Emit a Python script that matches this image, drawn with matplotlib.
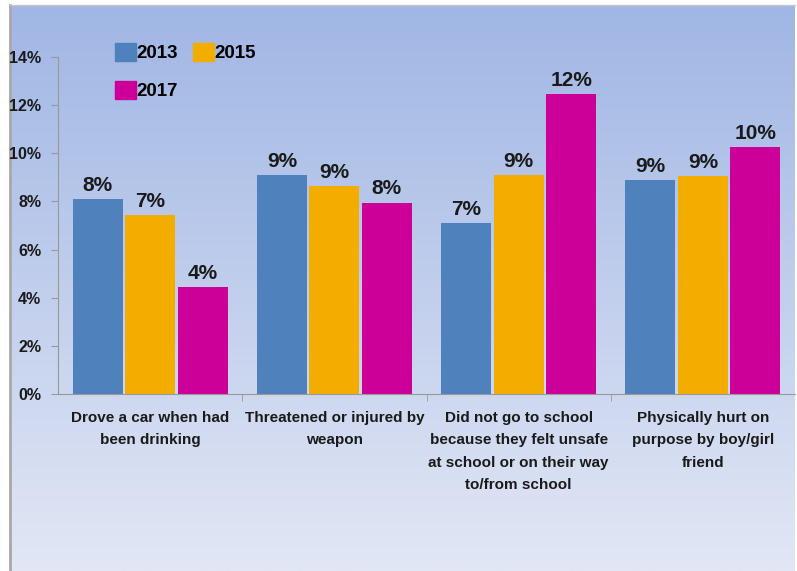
#!/usr/bin/env python3
"""Grouped bar chart of risk behaviours, 2013 / 2015 / 2017."""

import matplotlib

matplotlib.use("Agg")
import matplotlib.pyplot as plt
import numpy as np
from matplotlib.patches import Patch

categories = [
    "Drove a car when had\nbeen drinking",
    "Threatened or injured by\nweapon",
    "Did not go to school\nbecause they felt unsafe\nat school or on their way\nto/from school",
    "Physically hurt on\npurpose by boy/girl\nfriend",
]
years = ["2013", "2015", "2017"]
pct_2013 = [8.1, 9.1, 7.1, 8.9]
pct_2015 = [7.45, 8.65, 9.1, 9.05]
pct_2017 = [4.45, 7.95, 12.45, 10.25]
colors = ["#4f81bd", "#f3ad00", "#cc0099"]
yticks = [0, 2, 4, 6, 8, 10, 12, 14]

W, H = 797, 571
fig = plt.figure(figsize=(W / 100, H / 100), dpi=100, facecolor="white")

# slide background: vertical blue gradient inside a thin grey frame
bg = fig.add_axes([0, 0, 1, 1], zorder=0)
bg.set_xlim(0, W)
bg.set_ylim(H, 0)
bg.axis("off")
top = np.array([160, 182, 228]) / 255
bot = np.array([226, 231, 245]) / 255
t = np.linspace(0, 1, 256)[:, None]
grad = (top * (1 - t) + bot * t)[:, None, :]
bg.imshow(grad, extent=(10, 795, H, 5), aspect="auto")
bg.plot([10, 10], [5, H], color="#a8a8a8", lw=2)
bg.plot([10, 795], [5, 5], color="#c8c8c8", lw=1)

ax = fig.add_axes([58 / W, 177 / H, 737 / W, 337 / H], zorder=1)
ax.patch.set_alpha(0)

x = np.arange(len(categories))
step, width = 0.285, 0.272
series = [pct_2013, pct_2015, pct_2017]
for i, (vals, c, yr) in enumerate(zip(series, colors, years)):
    pos = x + (i - 1) * step
    ax.bar(pos, vals, width=width, color=c, label=yr)
    for px, v in zip(pos, vals):
        ax.annotate(f"{v:.0f}%", (px, v), xytext=(0, 3), textcoords="offset points",
                    ha="center", va="bottom", fontsize=15, fontweight="bold",
                    color="#1a1a1a", family="Liberation Sans")

ax.set_xlim(-0.5, 3.5)
ax.set_ylim(0, 14)
ax.set_yticks(yticks)
ax.set_yticklabels([f"{v}%" for v in yticks], fontsize=11.5, fontweight="bold",
                   family="Liberation Sans", color="#1a1a1a")
ax.set_xticks(x)
ax.set_xticklabels(categories, fontsize=11, fontweight="bold", color="#1a1a1a",
                   family="Liberation Sans", linespacing=1.78)
ax.set_xticks([0.5, 1.5, 2.5], minor=True)
ax.tick_params(axis="x", which="major", length=0, pad=12)
ax.tick_params(axis="x", which="minor", length=5, color="#999999")
ax.tick_params(axis="y", length=5, color="#999999", pad=7)
for s in ("top", "right"):
    ax.spines[s].set_visible(False)
for s in ("left", "bottom"):
    ax.spines[s].set_color("#999999")

handles = [Patch(color=colors[0], label=years[0]), Patch(color=colors[2], label=years[2]),
           Patch(color=colors[1], label=years[1])]
fig.legend(handles=handles, ncol=2, loc="upper left", bbox_to_anchor=(115 / W, 1 - 43 / H),
           frameon=False, borderpad=0, borderaxespad=0, handlelength=1.1, handleheight=1.1,
           handletextpad=0.05, columnspacing=0.8, labelspacing=1.0,
           prop={"family": "Liberation Sans", "weight": "bold", "size": 13.5})

fig.savefig("out.png", dpi=100, facecolor="white")
